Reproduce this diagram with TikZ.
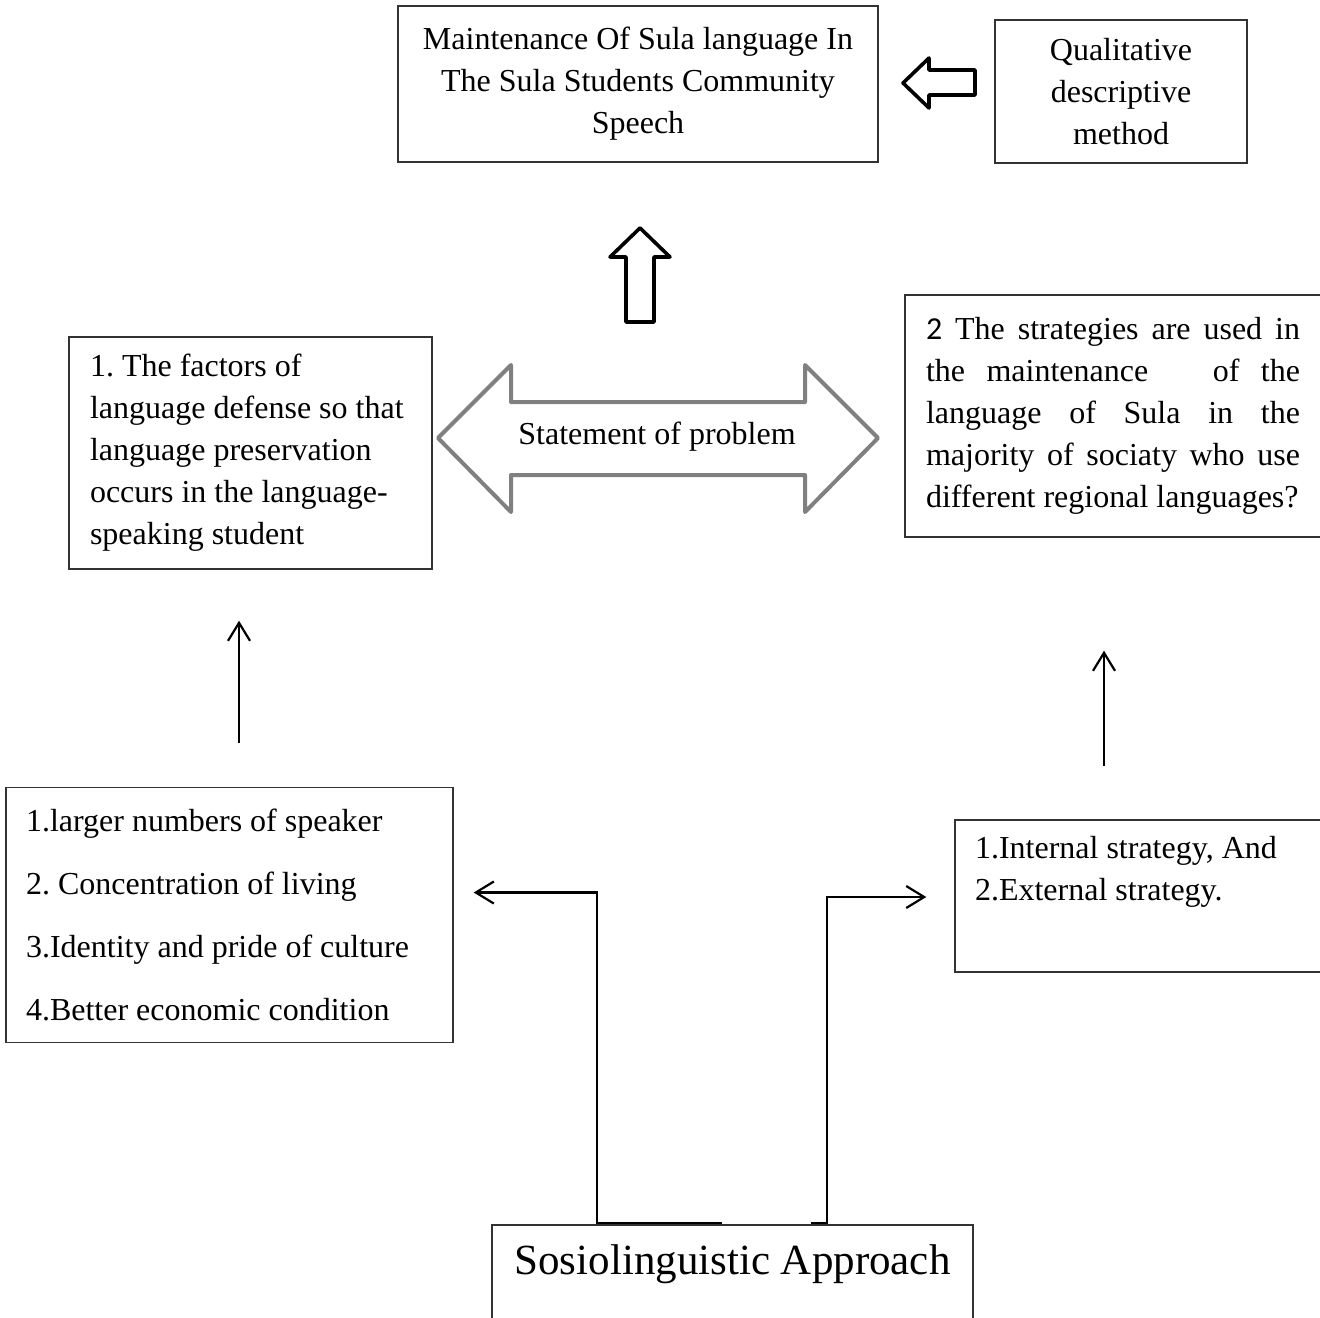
\documentclass[tikz,border=0pt]{standalone}
\usepackage{fontspec}
\setmainfont{Liberation Serif}
\newfontfamily\calfont{Carlito}
\usetikzlibrary{arrows.meta,calc}
\begin{document}
\frenchspacing
\begin{tikzpicture}[x=0.5pt,y=-0.5pt,
  box/.style={draw=black!80, line width=0.7pt, inner sep=0pt, font=\fontsize{16}{21}\selectfont},
  conn/.style={line width=1.1pt, -{Straight Barb[length=9pt,width=11pt]}},
  hollow/.style={draw=black, line width=1.8pt, line join=round, fill=white},
  grayarrow/.style={draw=black!50, line width=2pt, line join=round, fill=white},
  txt/.style={font=\fontsize{16}{21}\selectfont, inner sep=0pt},
]
\useasboundingbox (0,0) rectangle (1320,1317);
\clip (0,0) rectangle (1320,1317);

% boxes
\node[box, minimum width=240pt, minimum height=78pt, align=center] (top) at (638,84)
  {Maintenance Of Sula language In\\The Sula Students Community\\Speech};
\node[box, minimum width=126pt, minimum height=71.5pt, align=center] (qual) at (1121,91.5)
  {Qualitative\\descriptive\\method};
\node[box, minimum height=116pt, text width=160.5pt, inner xsep=10.5pt, align=flush left] (lft) at (250.5,453)
  {1. The factors of\\language defense so that\\language preservation\\occurs in the language-\\speaking student};
\node[box, minimum height=121pt, text width=187pt, inner xsep=10.5pt, align=flush left] (rgt) at (1113,416)
  {\makebox[187pt][l]{{\calfont 2}\hfill The\hfill strategies\hfill are\hfill used\hfill in}\\
   \makebox[187pt][l]{the\hfill maintenance\hfill\hfill\hfill of\hfill the}\\
   \makebox[187pt][l]{language\hfill of\hfill Sula\hfill in\hfill the}\\
   \makebox[187pt][l]{majority\hfill of\hfill sociaty\hfill who\hfill use}\\
   \makebox[187pt][l]{different regional languages?}};
\node[box, font=\fontsize{16}{31.5}\selectfont, minimum height=127.5pt, text width=203.5pt, inner xsep=10pt, align=flush left] (bl) at (229.5,915)
  {1.larger numbers of speaker\\2. Concentration of living\\3.Identity and pride of culture\\4.Better economic condition};
\node[box, minimum height=76pt, text width=163pt, inner xsep=10pt, align=flush left] (br) at (1138,896)
  {1.Internal strategy, And\\2.External strategy.\\\strut};
\node[box, font=\fontsize{21.5}{26}\selectfont, minimum width=240.5pt, text height=24.5pt, text depth=33pt] (sos) at (732.5,1282.5)
  {Sosiolinguistic Approach};

% double arrow (statement of problem)
\draw[grayarrow] (438,438) -- (511,365) -- (511,402) -- (805,402) -- (805,365) -- (878,438)
  -- (805,512) -- (805,475) -- (511,475) -- (511,512) -- cycle;
\node[txt] (stmt) at (657,437) {Statement of problem};

% hollow arrows
\draw[hollow] (903,83) -- (929,58) -- (929,70) -- (975,70) -- (975,95) -- (929,95) -- (929,108) -- cycle;
\draw[hollow] (640,228) -- (670,257) -- (654,257) -- (654,322) -- (626,322) -- (626,257) -- (610,257) -- cycle;

% thin connectors
\coordinate (lx) at (239,0);
\coordinate (rx) at (1104,0);
\draw[conn, shorten <=22pt, shorten >=25.5pt] (bl.north -| lx) -- (lft.south -| lx);
\draw[conn, shorten <=26.5pt, shorten >=56.5pt] (br.north -| rx) -- (rgt.south -| rx);

\draw[conn] ($(sos.north west)+(231,-1)$) -- ++(-125,0) |- ($(bl.east)+(20,-22.5)$);
\draw[conn] ($(sos.north west)+(320,-1)$) -- ++(16,0) |- ($(br.west)+(-28,1)$);
\end{tikzpicture}
\end{document}
